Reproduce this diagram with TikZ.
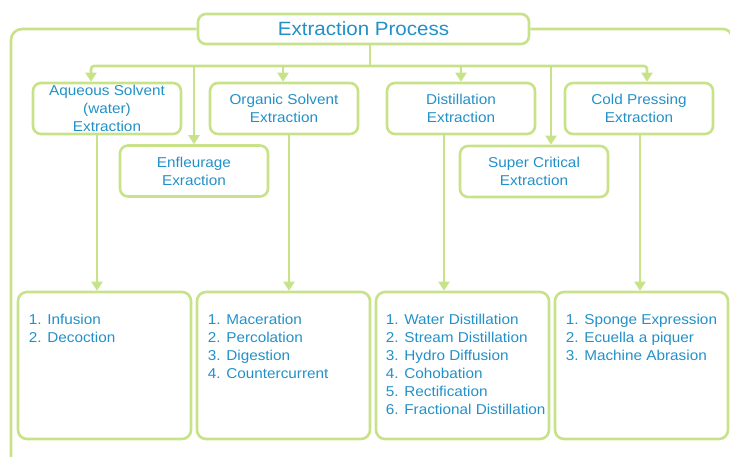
\documentclass[tikz,border=0pt]{standalone}
\usepackage{fontspec}
\setmainfont{Liberation Sans}[FakeStretch=1.07]
\usetikzlibrary{arrows.meta,calc}
\definecolor{lgreen}{RGB}{200,226,138}
\definecolor{tblue}{RGB}{34,144,200}
\tikzset{
  gline/.style={draw=lgreen, line width=2.6pt},
  tip/.tip={Triangle[width=11pt,length=9pt]},
  arr/.style={gline, -tip},
  box/.style={gline, rounded corners=8pt, minimum width=148pt, minimum height=51pt, inner sep=2pt,
     align=center, text=tblue, font=\fontsize{14.3}{18}\selectfont},
  bigbox/.style={gline, rounded corners=9pt, minimum width=173pt, minimum height=147pt},
  listtxt/.style={text=tblue, align=left, inner sep=0pt, anchor=north west, font=\fontsize{14.3}{18}\selectfont},
}
\begin{document}
\begin{tikzpicture}[x=1pt,y=-1pt]
\useasboundingbox (0,0) rectangle (730,457);
\node[gline, rounded corners=8pt, minimum width=331pt, minimum height=30pt, inner sep=0pt, text=tblue, font=\fontsize{19.2}{20}\selectfont] (title) at (363.5,29) {Extraction Process};
% outer frame
\draw[gline, rounded corners=11pt] (title.west) -- (11,29) -- (11,462);
\draw[gline, rounded corners=9pt] (title.east) -- (732,29) -- (732,462);
% top boxes
\node[box] (aq) at (107,108.5) {\fontsize{14.3}{15}\selectfont Aqueous Solvent\\(water)\\Extraction};
\node[box] (org) at (284,108.5) {Organic Solvent\\Extraction};
\node[box] (dist) at (461,108.5) {Distillation\\Extraction};
\node[box] (cold) at (639,108.5) {Cold Pressing\\Extraction};
\node[box] (enf) at (194,171) {Enfleurage\\Exraction};
\node[box] (sup) at (534,171.5) {Super Critical\\Extraction};
% bus
\coordinate (bl) at (91,66);
\coordinate (br) at (647,66);
\coordinate (bt) at (370,66);
\draw[gline] (title.south -| bt) -- (bt);
\draw[gline, rounded corners=3pt, tip-tip] (bl |- aq.north) -- (bl) -- (br) -- (br |- cold.north);
\draw[arr] (194,66) -- (enf.north);
\draw[arr] (283,66) -- (283,0 |- org.north);
\draw[arr] (461,66) -- (dist.north);
\draw[arr] (551,66) -- (551,0 |- sup.north);
% bottom boxes
\node[bigbox] (l1) at (104.5,365.5) {};
\node[bigbox] (l2) at (283.5,365.5) {};
\node[bigbox] (l3) at (462.5,365.5) {};
\node[bigbox] (l4) at (641.5,365.5) {};
\draw[arr] ([xshift=-10pt]aq.south) -- ([xshift=-10pt]aq.south |- l1.north);
\draw[arr] ([xshift=5pt]org.south) -- ([xshift=5pt]org.south |- l2.north);
\draw[arr] ([xshift=-17pt]dist.south) -- ([xshift=-17pt]dist.south |- l3.north);
\draw[arr] ([xshift=1pt]cold.south) -- ([xshift=1pt]cold.south |- l4.north);
% list texts
\node[listtxt] (t1) at ($(l1.north west)+(12,23)$) {1. Infusion\\2. Decoction};
\node[listtxt] (t2) at ($(l2.north west)+(12,23)$) {1. Maceration\\2. Percolation\\3. Digestion\\4. Countercurrent};
\node[listtxt] (t3) at ($(l3.north west)+(11,23)$) {1. Water Distillation\\2. Stream Distillation\\3. Hydro Diffusion\\4. Cohobation\\5. Rectification\\6. Fractional Distillation};
\node[listtxt] (t4) at ($(l4.north west)+(12,23)$) {1. Sponge Expression\\2. Ecuella a piquer\\3. Machine Abrasion};
\end{tikzpicture}
\end{document}
